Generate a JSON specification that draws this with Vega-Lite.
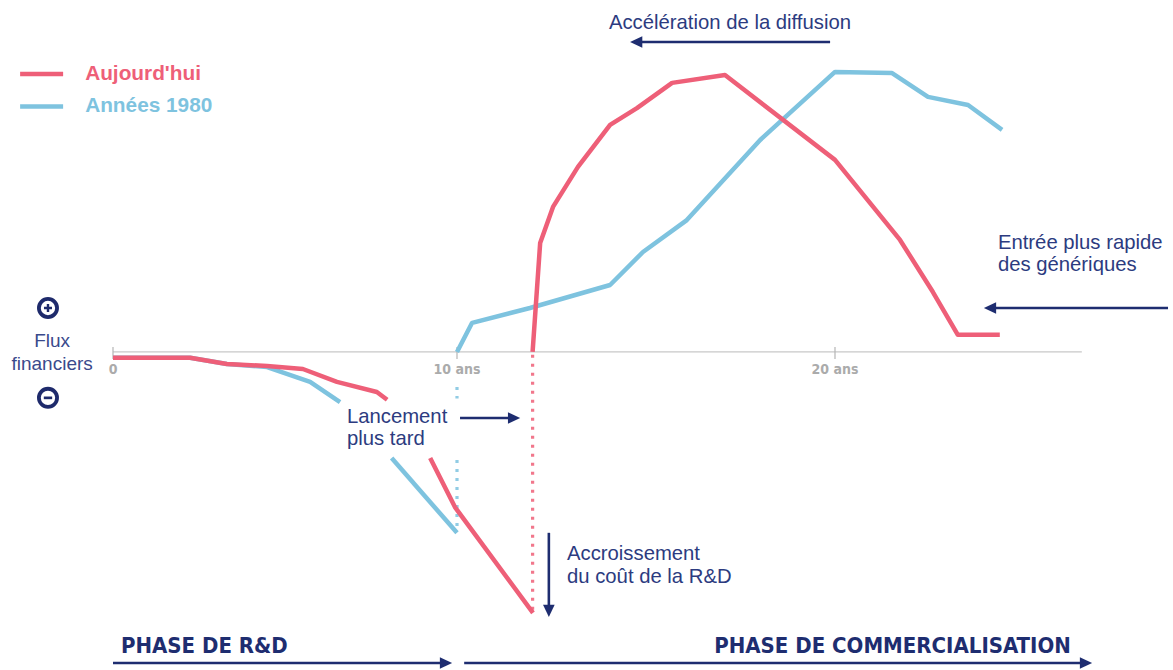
{
  "$schema": "https://vega.github.io/schema/vega-lite/v6.json",
  "width": 1173,
  "height": 670,
  "autosize": {"type": "none"},
  "padding": 0,
  "background": "white",
  "config": {"view": {"stroke": null}},
  "datasets": {
    "curves": [
      {"serie": "Années 1980", "seg": "b1", "x": 0, "y": -2.1},
      {"serie": "Années 1980", "seg": "b1", "x": 2.24, "y": -2.1},
      {"serie": "Années 1980", "seg": "b1", "x": 3.31, "y": -4.3},
      {"serie": "Années 1980", "seg": "b1", "x": 4.48, "y": -5.4},
      {"serie": "Années 1980", "seg": "b1", "x": 5.73, "y": -10.7},
      {"serie": "Années 1980", "seg": "b1", "x": 6.6, "y": -17.9},
      {"serie": "Années 1980", "seg": "b2", "x": 8.1, "y": -37.9},
      {"serie": "Années 1980", "seg": "b2", "x": 10.0, "y": -64.6},
      {"serie": "Années 1980", "seg": "b3", "x": 10.0, "y": 0},
      {"serie": "Années 1980", "seg": "b3", "x": 10.4, "y": 10.4},
      {"serie": "Années 1980", "seg": "b3", "x": 11.93, "y": 15.7},
      {"serie": "Années 1980", "seg": "b3", "x": 14.05, "y": 23.9},
      {"serie": "Années 1980", "seg": "b3", "x": 14.92, "y": 35.7},
      {"serie": "Années 1980", "seg": "b3", "x": 16.08, "y": 47.1},
      {"serie": "Années 1980", "seg": "b3", "x": 16.88, "y": 58.9},
      {"serie": "Années 1980", "seg": "b3", "x": 18.02, "y": 75.7},
      {"serie": "Années 1980", "seg": "b3", "x": 20.0, "y": 100},
      {"serie": "Années 1980", "seg": "b3", "x": 21.51, "y": 99.6},
      {"serie": "Années 1980", "seg": "b3", "x": 22.46, "y": 91.1},
      {"serie": "Années 1980", "seg": "b3", "x": 23.52, "y": 88.2},
      {"serie": "Années 1980", "seg": "b3", "x": 24.42, "y": 79.3},
      {"serie": "Aujourd'hui", "seg": "r1", "x": 0, "y": -2.1},
      {"serie": "Aujourd'hui", "seg": "r1", "x": 2.24, "y": -2.1},
      {"serie": "Aujourd'hui", "seg": "r1", "x": 3.31, "y": -4.3},
      {"serie": "Aujourd'hui", "seg": "r1", "x": 4.48, "y": -5.0},
      {"serie": "Aujourd'hui", "seg": "r1", "x": 5.52, "y": -6.1},
      {"serie": "Aujourd'hui", "seg": "r1", "x": 6.51, "y": -10.7},
      {"serie": "Aujourd'hui", "seg": "r1", "x": 7.67, "y": -14.3},
      {"serie": "Aujourd'hui", "seg": "r1", "x": 7.97, "y": -17.1},
      {"serie": "Aujourd'hui", "seg": "r2", "x": 9.22, "y": -37.9},
      {"serie": "Aujourd'hui", "seg": "r2", "x": 9.94, "y": -55.4},
      {"serie": "Aujourd'hui", "seg": "r2", "x": 12.01, "y": -93.2},
      {"serie": "Aujourd'hui", "seg": "r3", "x": 12.0, "y": 0},
      {"serie": "Aujourd'hui", "seg": "r3", "x": 12.2, "y": 38.9},
      {"serie": "Aujourd'hui", "seg": "r3", "x": 12.54, "y": 51.8},
      {"serie": "Aujourd'hui", "seg": "r3", "x": 13.2, "y": 66.1},
      {"serie": "Aujourd'hui", "seg": "r3", "x": 14.05, "y": 81.1},
      {"serie": "Aujourd'hui", "seg": "r3", "x": 14.76, "y": 87.1},
      {"serie": "Aujourd'hui", "seg": "r3", "x": 15.69, "y": 96.1},
      {"serie": "Aujourd'hui", "seg": "r3", "x": 17.09, "y": 98.9},
      {"serie": "Aujourd'hui", "seg": "r3", "x": 20.0, "y": 68.6},
      {"serie": "Aujourd'hui", "seg": "r3", "x": 21.72, "y": 40.0},
      {"serie": "Aujourd'hui", "seg": "r3", "x": 22.59, "y": 21.4},
      {"serie": "Aujourd'hui", "seg": "r3", "x": 23.25, "y": 6.1},
      {"serie": "Aujourd'hui", "seg": "r3", "x": 24.36, "y": 6.1}
    ],
    "dots": [
      {"serie": "Années 1980", "x": 10, "y": -12.5, "y2": -16.6},
      {"serie": "Années 1980", "x": 10, "y": -38.6, "y2": -62.5},
      {"serie": "Aujourd'hui", "x": 12, "y": -1, "y2": -93}
    ],
    "arrows": [
      {"x": 14.74, "x2": 19.87, "y": 110.7, "y2": 110.7},
      {"x": 24.1, "x2": 28.81, "y": 15.7, "y2": 15.7},
      {"x": 10.08, "x2": 11.51, "y": -23.6, "y2": -23.6},
      {"x": 12.43, "x2": 12.43, "y": -64.6, "y2": -92.5},
      {"x": 0, "x2": 9.68, "y": -111.1, "y2": -111.1},
      {"x": 10.19, "x2": 26.64, "y": -111.1, "y2": -111.1}
    ],
    "heads": [
      {"x": 14.74, "y": 110.7, "dir": "left"},
      {"x": 24.1, "y": 15.7, "dir": "left"},
      {"x": 11.51, "y": -23.6, "dir": "right"},
      {"x": 12.43, "y": -92.5, "dir": "down"},
      {"x": 9.68, "y": -111.1, "dir": "right"},
      {"x": 26.64, "y": -111.1, "dir": "right"}
    ],
    "notes": [
      {"text": "Accélération de la diffusion", "x": 14.02, "y": 117.5},
      {"text": "Entrée plus rapide", "x": 24.31, "y": 38.9},
      {"text": "des génériques", "x": 24.31, "y": 31.1},
      {"text": "Lancement", "x": 6.8, "y": -23.2},
      {"text": "plus tard", "x": 6.8, "y": -31.1},
      {"text": "Accroissement", "x": 12.91, "y": -72.1},
      {"text": "du coût de la R&D", "x": 12.91, "y": -80.4}
    ],
    "flux": [
      {"text": "Flux", "x": -1.77, "y": 3.8},
      {"text": "financiers", "x": -1.77, "y": -4.3}
    ],
    "icons": [
      {"sign": "plus", "x": -1.89, "y": 15.7},
      {"sign": "minus", "x": -1.89, "y": -16.4}
    ],
    "legend": [
      {"serie": "Aujourd'hui", "x": -2.7, "x2": -1.45, "tx": -0.81, "y": 99.3},
      {"serie": "Années 1980", "x": -2.7, "x2": -1.45, "tx": -0.81, "y": 87.7}
    ],
    "baseline": [
      {"x": 0, "x2": 26.53, "y": 0}
    ],
    "ticks": [
      {"label": "0", "x": 0, "y": 1.8, "y2": -2.5, "ly": -6.4},
      {"label": "10 ans", "x": 10, "y": 1.8, "y2": -2.5, "ly": -6.4},
      {"label": "20 ans", "x": 20, "y": 1.8, "y2": -2.5, "ly": -6.4}
    ],
    "phases": [
      {"text": "PHASE DE R&D", "x": 0.23, "y": -105, "side": "left"},
      {"text": "PHASE DE COMMERCIALISATION", "x": 26.24, "y": -105, "side": "right"}
    ]
  },
  "encoding": {
    "x": {"field": "x", "type": "quantitative", "scale": {"domain": [0, 10, 20], "range": [113, 457, 835], "nice": false, "zero": false}, "axis": null},
    "y": {"field": "y", "type": "quantitative", "scale": {"domain": [-113.6, 125.7], "nice": false, "zero": false}, "axis": null}
  },
  "layer": [
    {
      "data": {"name": "baseline"},
      "mark": {"type": "rule", "color": "#c8c8c8", "strokeWidth": 1.2},
      "encoding": {"x2": {"field": "x2"}}
    },
    {
      "data": {"name": "ticks"},
      "mark": {"type": "rule", "color": "#b5b5b5", "strokeWidth": 1.2},
      "encoding": {"y2": {"field": "y2"}}
    },
    {
      "data": {"name": "ticks"},
      "mark": {"type": "text", "font": "Liberation Sans Narrow, DejaVu Sans Condensed", "fontWeight": "bold", "fontSize": 14, "color": "#ababab", "align": "center", "baseline": "middle"},
      "encoding": {"y": {"field": "ly", "type": "quantitative"}, "text": {"field": "label"}}
    },
    {
      "data": {"name": "dots"},
      "mark": {"type": "rule", "strokeWidth": 3.2, "strokeDash": [3, 6], "strokeCap": "butt", "opacity": 0.85},
      "encoding": {
        "y2": {"field": "y2"},
        "color": {"field": "serie", "type": "nominal", "scale": {"domain": ["Aujourd'hui", "Années 1980"], "range": ["#ee5f78", "#7ec3df"]}, "legend": null}
      }
    },
    {
      "data": {"name": "curves"},
      "transform": [{"filter": "datum.serie == 'Années 1980'"}],
      "mark": {"type": "line", "strokeWidth": 4.5, "strokeCap": "butt", "strokeJoin": "round"},
      "encoding": {
        "color": {"field": "serie", "type": "nominal", "legend": null},
        "detail": {"field": "seg"}
      }
    },
    {
      "data": {"name": "curves"},
      "transform": [{"filter": "datum.serie == 'Aujourd\\'hui'"}],
      "mark": {"type": "line", "strokeWidth": 4.5, "strokeCap": "butt", "strokeJoin": "round"},
      "encoding": {
        "color": {"field": "serie", "type": "nominal", "legend": null},
        "detail": {"field": "seg"}
      }
    },
    {
      "data": {"name": "arrows"},
      "mark": {"type": "rule", "color": "#1e2d70", "strokeWidth": 2.6},
      "encoding": {"x2": {"field": "x2"}, "y2": {"field": "y2"}}
    },
    {
      "data": {"name": "heads"},
      "mark": {"type": "point", "filled": true, "color": "#1e2d70", "size": 150, "opacity": 1},
      "encoding": {
        "shape": {"field": "dir", "type": "nominal", "scale": {"domain": ["left", "right", "down"], "range": ["M-1,0L1,-0.95L1,0.95Z", "M1,0L-1,-0.95L-1,0.95Z", "M0,1L-0.95,-1L0.95,-1Z"]}, "legend": null}
      }
    },
    {
      "data": {"name": "notes"},
      "mark": {"type": "text", "font": "Liberation Sans", "fontSize": 20.3, "color": "#2c3b80", "align": "left", "baseline": "middle"},
      "encoding": {"text": {"field": "text"}}
    },
    {
      "data": {"name": "flux"},
      "mark": {"type": "text", "font": "Liberation Sans", "fontSize": 19, "color": "#3a4a8c", "align": "center", "baseline": "middle"},
      "encoding": {"text": {"field": "text"}}
    },
    {
      "data": {"name": "icons"},
      "mark": {"type": "point", "shape": "circle", "filled": false, "size": 330, "strokeWidth": 3.8, "color": "#1e2a6b", "opacity": 1},
      "encoding": {}
    },
    {
      "data": {"name": "icons"},
      "transform": [{"filter": "datum.sign == 'plus'"}],
      "mark": {"type": "point", "filled": true, "size": 64, "color": "#1e2a6b", "opacity": 1, "shape": "M-1,-0.3H1V0.3H-1Z M-0.3,-1H0.3V1H-0.3Z"},
      "encoding": {}
    },
    {
      "data": {"name": "icons"},
      "transform": [{"filter": "datum.sign == 'minus'"}],
      "mark": {"type": "point", "filled": true, "size": 70, "color": "#1e2a6b", "opacity": 1, "shape": "M-1,-0.32H1V0.32H-1Z"},
      "encoding": {}
    },
    {
      "data": {"name": "legend"},
      "mark": {"type": "rule", "strokeWidth": 4.5},
      "encoding": {
        "x2": {"field": "x2"},
        "color": {"field": "serie", "type": "nominal", "legend": null}
      }
    },
    {
      "data": {"name": "legend"},
      "mark": {"type": "text", "font": "Liberation Sans", "fontWeight": "bold", "fontSize": 20.8, "align": "left", "baseline": "middle"},
      "encoding": {
        "x": {"field": "tx", "type": "quantitative"},
        "text": {"field": "serie"},
        "color": {"field": "serie", "type": "nominal", "legend": null}
      }
    },
    {
      "data": {"name": "phases"},
      "transform": [{"filter": "datum.side == 'left'"}],
      "mark": {"type": "text", "font": "Liberation Sans Narrow, DejaVu Sans Condensed", "fontWeight": "bold", "fontSize": 22, "color": "#1e2d70", "align": "left", "baseline": "middle"},
      "encoding": {"text": {"field": "text"}}
    },
    {
      "data": {"name": "phases"},
      "transform": [{"filter": "datum.side == 'right'"}],
      "mark": {"type": "text", "font": "Liberation Sans Narrow, DejaVu Sans Condensed", "fontWeight": "bold", "fontSize": 22, "color": "#1e2d70", "align": "right", "baseline": "middle"},
      "encoding": {"text": {"field": "text"}}
    }
  ]
}
